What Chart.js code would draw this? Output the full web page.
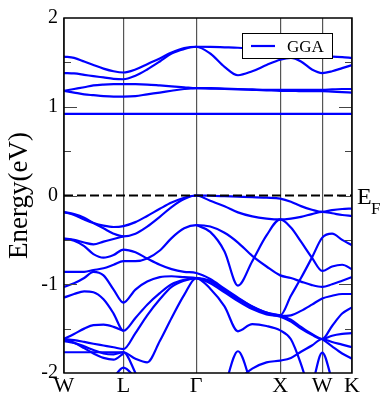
<!DOCTYPE html>
<html>
<head>
<meta charset="utf-8">
<script src="https://cdn.jsdelivr.net/npm/chart.js@4.4.1/dist/chart.umd.min.js"></script>
<style>
  html, body { margin: 0; padding: 0; background: #fff; }
  #wrap { width: 383px; height: 396px; }
</style>
</head>
<body>
<div id="wrap"><canvas id="bands"></canvas></div>
<script>
// high symmetry points along the path (units of 2pi/a)
const kPoints = [0, 0.707, 1.573, 2.573, 3.073, 3.427];
const kLabels = ['W', 'L', 'Γ', 'X', 'W', 'K'];

// sampling positions along the path
const kGrid = [0, 0.12, 0.24, 0.35, 0.47, 0.59, 0.707,
  0.85, 0.99, 1.14, 1.28, 1.43, 1.573,
  1.74, 1.91, 2.07, 2.24, 2.41, 2.573,
  2.70, 2.82, 2.95, 3.073,
  3.19, 3.31, 3.427];

const fermiLevel = 0;
const _ = null;

// conduction bands (eV)
const c0 = [0.92,0.92,0.92,0.92,0.92,0.92,0.92, 0.92,0.92,0.92,0.92,0.92,0.92, 0.92,0.92,0.92,0.92,0.92,0.92, 0.92,0.92,0.92,0.92, 0.92,0.92,0.92];
const c1 = [1.18,1.16,1.14,1.13,1.12,1.115,1.115, 1.12,1.14,1.16,1.18,1.20,1.21, 1.205,1.20,1.195,1.19,1.185,1.18, 1.18,1.175,1.175,1.175, 1.17,1.165,1.16];
const c2 = [1.18,1.20,1.22,1.24,1.25,1.255,1.256, 1.255,1.25,1.24,1.23,1.22,1.21, 1.21,1.205,1.20,1.195,1.19,1.19, 1.19,1.19,1.19,1.19, 1.195,1.20,1.20];
const c3 = [1.38,1.375,1.36,1.345,1.33,1.315,1.31, 1.35,1.42,1.51,1.60,1.65,1.676, 1.60,1.45,1.355,1.40,1.47,1.53, 1.55,1.51,1.42,1.38, 1.40,1.435,1.47];
const c4 = [1.565,1.55,1.51,1.47,1.43,1.40,1.386, 1.42,1.48,1.545,1.61,1.66,1.676, 1.675,1.67,1.665,1.655,1.64,1.62, 1.60,1.585,1.57,1.565, 1.565,1.56,1.55];

// valence bands (eV)
const va = [-0.186,-0.22,-0.27,-0.31,-0.34,-0.355,-0.345, -0.30,-0.23,-0.15,-0.08,-0.025,0, -0.003,-0.008,-0.013,-0.018,-0.025,-0.035, -0.07,-0.12,-0.16,-0.185, -0.165,-0.152,-0.147];
const vb = [-0.186,-0.21,-0.25,-0.31,-0.37,-0.43,-0.46, -0.43,-0.35,-0.24,-0.13,-0.04,0, -0.06,-0.12,-0.19,-0.235,-0.26,-0.27, -0.26,-0.24,-0.21,-0.185, -0.20,-0.22,-0.23];
const vc = [-0.485,-0.50,-0.53,-0.55,-0.52,-0.49,-0.46, _,_,_,_,_,_, _,_,_,_,_,_, _,_,_,_, _,_,_];
const vd = [-0.485,-0.51,-0.57,-0.66,-0.70,-0.67,-0.61, -0.64,-0.71,-0.78,-0.83,-0.86,-0.873, -0.94,-1.05,-1.15,-1.25,-1.32,-1.35, -1.13,-0.93,-0.70,-0.475, -0.43,-0.50,-0.56];
const ve = [-0.86,-0.86,-0.86,-0.84,-0.82,-0.78,-0.74, -0.74,-0.71,-0.62,-0.48,-0.37,-0.333, -0.35,-0.42,-0.53,-0.68,-0.80,-0.90, -0.93,-0.97,-1.01,-1.03, -1.00,-0.96,-0.92];
const vx = [_,_,_,_,_,_,_, _,_,_,_,_,-0.333, -0.41,-0.63,-1.015,-0.74,-0.45,-0.27, -0.36,-0.52,-0.70,-0.85, -0.80,-0.78,-0.83];
const vf = [-1.03,-0.99,-0.93,-0.86,-0.90,-1.06,-1.207, -1.06,-0.97,-0.92,-0.91,-0.92,-0.93, -0.97,-1.07,-1.17,-1.26,-1.33,-1.356, -1.35,-1.30,-1.23,-1.16, -1.13,-1.11,-1.11];
const vg = [-1.15,-1.11,-1.08,-1.09,-1.17,-1.33,-1.524, -1.38,-1.23,-1.10,-1.00,-0.95,-0.93, -1.05,-1.25,-1.53,-1.45,-1.47,-1.52, -1.62,-1.90,-2.30,_, _,_,_];
const vh = [-1.617,-1.56,-1.50,-1.46,-1.455,-1.48,-1.524, _,_,_,_,_,_, _,_,_,_,_,_, _,_,_,_, _,_,_];
const vi = [-1.617,-1.63,-1.65,-1.67,-1.69,-1.71,-1.73, -1.55,-1.35,-1.17,-1.03,-0.96,-0.93, -0.99,-1.09,-1.19,-1.28,-1.34,-1.365, -1.42,-1.50,-1.57,-1.617, -1.47,-1.33,-1.26];
const vj = [-1.64,-1.66,-1.70,-1.74,-1.78,-1.79,-1.766, -1.84,-1.88,-1.64,-1.38,-1.12,-0.93, -0.96,-1.06,-1.16,-1.25,-1.32,-1.35, -1.40,-1.48,-1.56,-1.617, -1.58,-1.56,-1.55];
const vk = [-1.766,-1.766,-1.766,-1.766,-1.766,-1.766,-1.766, -2.0,-2.3,_,_,_,_, _,_,_,_,_,_, _,_,_,_, _,_,_];
const vl = [-1.62,-1.66,-1.72,-1.78,-1.83,-1.85,-1.78, _,_,_,_,_,_, _,_,_,_,_,_, _,_,_,_, _,_,_];
const vm = [_,_,_,_,_,-2.05,-1.94, -2.05,_,_,_,_,_, _,_,_,_,_,_, _,_,_,_, _,_,_];
const vn = [_,_,_,_,_,_,_, _,_,_,_,_,_, _,_,-2.08,-1.95,-1.88,-1.86, -1.83,-1.76,-1.69,-1.617, -1.65,-1.68,-1.71];
const vo = [_,_,_,_,_,_,_, _,_,_,_,_,_, _,_,_,_,_,_, _,_,_,-1.617, -1.70,-1.78,-1.84];
const vs1 = [_,_,_,_,_,_,_, _,_,_,_,_,_, _,-2.16,-1.755,-2.16,_,_, _,_,_,_, _,_,_];
const vs2 = [_,_,_,_,_,_,_, _,_,_,_,_,_, _,_,_,_,_,_, _,_,-2.16,-1.77, -2.08,_,_];

const bandList = [c0, c1, c2, c3, c4, va, vb, vc, vd, ve, vx, vf, vg, vh, vi, vj, vk, vl, vm, vn, vo, vs1, vs2];

const SERIF = '"Liberation Serif", "Times New Roman", serif';
const BLUE = '#0000ff';

const bandSets = bandList.map(vals => ({
  data: kGrid.map((k, i) => ({ x: k, y: vals[i] })),
  borderColor: BLUE,
  borderWidth: 2.2,
  pointRadius: 0,
  showLine: true,
  cubicInterpolationMode: 'monotone',
  spanGaps: false,
  clip: 0
}));

const fermiSet = {
  data: [{ x: kPoints[0], y: fermiLevel }, { x: kPoints[kPoints.length - 1], y: fermiLevel }],
  borderColor: '#000',
  borderWidth: 2.2,
  borderDash: [9, 4],
  pointRadius: 0,
  showLine: true,
  clip: 0
};

// frame, inward ticks, legend box and E_F label
const decor = {
  id: 'decor',
  afterDatasetsDraw(chart) {
    const { ctx, chartArea: a, scales: { y } } = chart;
    ctx.save();
    ctx.strokeStyle = '#444';
    ctx.lineWidth = 1.2;
    for (let v = -2; v <= 2; v += 0.5) {
      if (v === -2 || v === 2) continue;
      const py = Math.round(y.getPixelForValue(v)) + 0.5;
      const len = Number.isInteger(v) ? 13 : 7;
      ctx.beginPath();
      ctx.moveTo(a.left, py); ctx.lineTo(a.left + len, py);
      ctx.moveTo(a.right - len, py); ctx.lineTo(a.right, py);
      ctx.stroke();
    }
    ctx.strokeStyle = '#000';
    ctx.lineWidth = 1.5;
    ctx.strokeRect(a.left, a.top, a.right - a.left, a.bottom - a.top);

    // legend
    const lx = 242, ly = 33, lw = 90, lh = 25;
    ctx.fillStyle = '#fff';
    ctx.fillRect(lx, ly, lw, lh);
    ctx.lineWidth = 1;
    ctx.strokeStyle = '#000';
    ctx.strokeRect(lx + 0.5, ly + 0.5, lw, lh);
    ctx.strokeStyle = BLUE;
    ctx.lineWidth = 2.2;
    ctx.beginPath();
    ctx.moveTo(lx + 9, ly + 13); ctx.lineTo(lx + 33, ly + 13);
    ctx.stroke();
    ctx.fillStyle = '#000';
    ctx.font = '17px ' + SERIF;
    ctx.textBaseline = 'alphabetic';
    ctx.fillText('GGA', lx + 45, ly + 19);

    // E_F
    const fy = y.getPixelForValue(fermiLevel);
    ctx.font = '24px ' + SERIF;
    ctx.fillText('E', a.right + 5, fy + 8);
    ctx.font = '17px ' + SERIF;
    ctx.fillText('F', a.right + 19, fy + 18);
    ctx.restore();
  }
};

new Chart(document.getElementById('bands'), {
  type: 'scatter',
  data: { datasets: [fermiSet, ...bandSets] },
  options: {
    responsive: true,
    maintainAspectRatio: false,
    animation: false,
    events: [],
    layout: { padding: { top: 14, right: 31, bottom: 0, left: 0 } },
    plugins: { legend: { display: false }, tooltip: { enabled: false } },
    scales: {
      x: {
        type: 'linear',
        min: kPoints[0],
        max: kPoints[kPoints.length - 1],
        afterBuildTicks: s => { s.ticks = kPoints.map(v => ({ value: v })); },
        afterFit: s => { s.height = 23; },
        ticks: {
          autoSkip: false,
          maxRotation: 0,
          padding: 0,
          color: '#000',
          font: { family: SERIF, size: 22 },
          callback: (v, i) => kLabels[i]
        },
        grid: { color: '#555', lineWidth: 1.2, drawTicks: false },
        border: { display: false }
      },
      y: {
        min: -2,
        max: 2,
        afterFit: s => { s.width = 64; },
        ticks: {
          stepSize: 1,
          padding: 6,
          color: '#000',
          font: { family: SERIF, size: 20 }
        },
        grid: { display: false, drawTicks: false },
        border: { display: false },
        title: {
          display: true,
          text: 'Energy(eV)',
          color: '#000',
          font: { family: SERIF, size: 27 },
          padding: { top: 4, bottom: 0 }
        }
      }
    }
  },
  plugins: [decor]
});
</script>
</body>
</html>
